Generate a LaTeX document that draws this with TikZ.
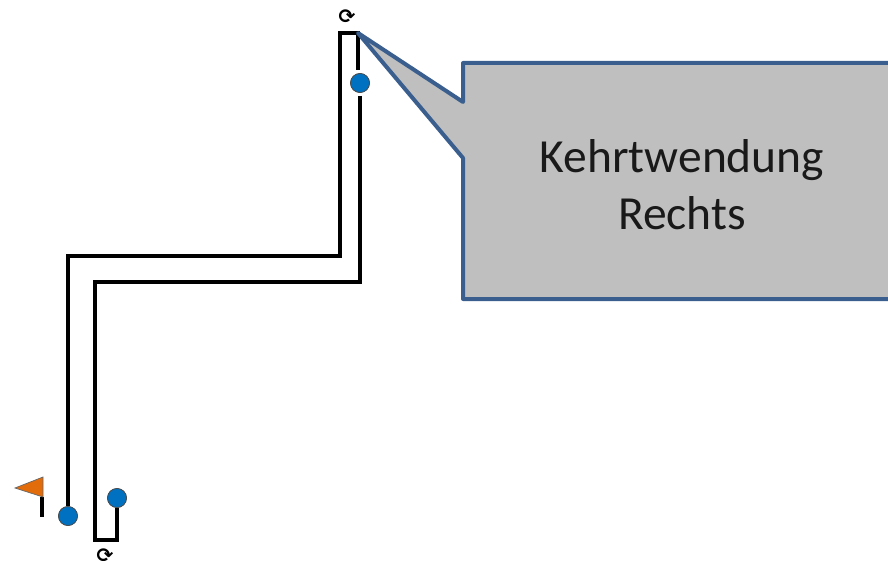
\documentclass[tikz,border=0pt]{standalone}
\usepackage{fontspec}
\setmainfont{Carlito}
\newfontfamily\symfont{DejaVu Sans}
\definecolor{calloutfill}{HTML}{BFBFBF}
\definecolor{calloutline}{HTML}{3A5F8F}
\definecolor{dotblue}{HTML}{0070C0}
\definecolor{flagorange}{HTML}{E36C0A}
\tikzset{
  route/.style={draw=black,line width=4pt,line join=miter},
  dot/.style={circle,draw=black!70,line width=0.7pt,fill=dotblue,minimum size=19pt,inner sep=0pt},
  turn/.style={font=\symfont\bfseries\fontsize{20}{20}\selectfont,inner sep=0pt},
  callout/.style={draw=calloutline,line width=4pt,fill=calloutfill,line join=round},
  bubbletext/.style={font=\fontsize{47.5}{57}\selectfont,align=center,text=black!90,inner sep=0pt}
}
\begin{document}
\begin{tikzpicture}[x=1pt,y=-1pt]
\useasboundingbox (0,0) rectangle (888,561);
\coordinate (tip) at (358,33);
\node[dot] (startdot) at (68,516) {};
\node[dot] (enddot) at (117,498) {};
\node[dot] (topdot) at (360,83) {};
\coordinate (a1) at (68,256);
\coordinate (a2) at (340,256);
\coordinate (a3) at (340,33);
\coordinate (a4) at (358,33);
\coordinate (a5) at (358,70);
\coordinate (b0) at (360,96);
\coordinate (b1) at (360,282);
\coordinate (b2) at (95,282);
\coordinate (b3) at (95,540);
\coordinate (b4) at (117,540);
\draw[route] (startdot.north) -- (a1) -- (a2) -- (a3) -- (a4) -- (a5);
\draw[route] (b0) -- (b1) -- (b2) -- (b3) -- (b4) -- (enddot.south);
\node[dot] at (startdot) {};
\node[dot] at (enddot) {};
\node[dot] at (topdot) {};
% flag
\draw[line width=3.5pt] (42,497) -- (42,517);
\fill[flagorange,draw=black!60,line width=0.7pt] (15,488) -- (43,477) -- (43,497) -- cycle;
% turn marks
\node[turn] (turntop) at (347,17) {⟳};
\node[turn] (turnbot) at (105,556) {⟳};
% callout
\draw[callout] (tip) -- (463,102) -- (463,63) -- (900,63) -- (900,299) -- (463,299) -- (463,158) -- cycle;
\node[bubbletext] (label) at (682,185) {Kehrtwendung\\Rechts};
\end{tikzpicture}
\end{document}
